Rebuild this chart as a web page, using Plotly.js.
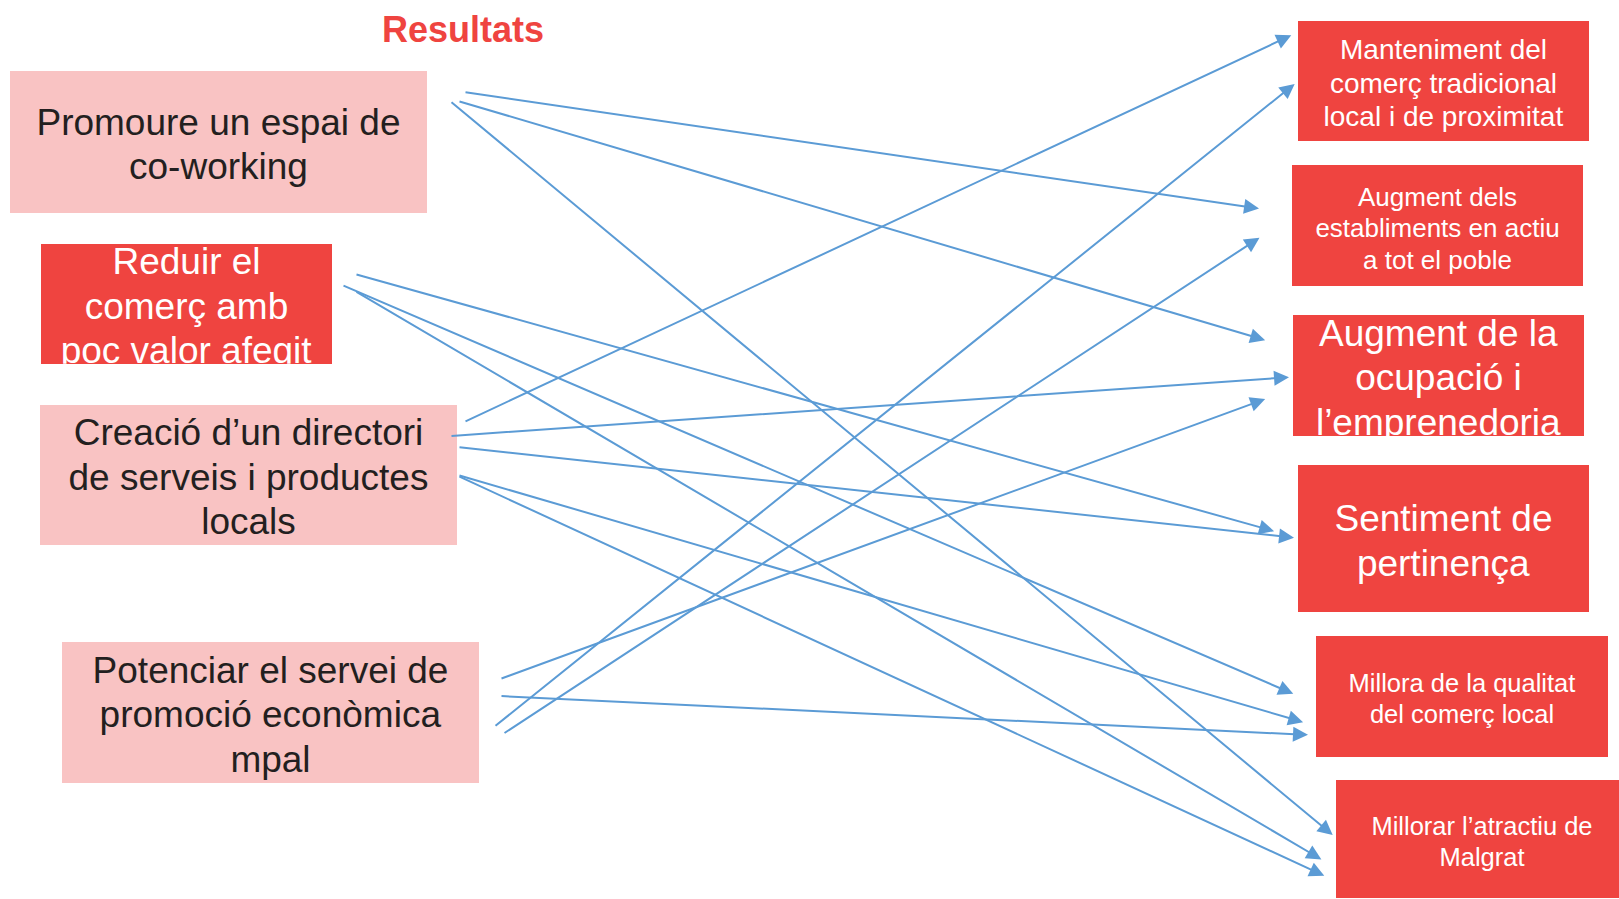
<!DOCTYPE html>
<html>
<head>
<meta charset="utf-8">
<script src="https://cdn.plot.ly/plotly-3.0.1.min.js"></script>
<style>
html,body{margin:0;padding:0;background:#ffffff;overflow:hidden}
#chart{width:1619px;height:899px}
</style>
</head>
<body>
<div id="chart"></div>
<script>
// ---------------- DATA ----------------
const titleText = "Resultats";

const leftLabels = [
  ["Promoure un espai de", "co-working"],
  ["Reduir el", "comerç amb", "poc valor afegit"],
  ["Creació d’un directori", "de serveis i productes", "locals"],
  ["Potenciar el servei de", "promoció econòmica", "mpal"]
];

const rightLabels = [
  ["Manteniment del", "comerç tradicional", "local i de proximitat"],
  ["Augment dels", "establiments en actiu", "a tot el poble"],
  ["Augment de la", "ocupació i", "l’emprenedoria"],
  ["Sentiment de", "pertinença"],
  ["Millora de la qualitat", "del comerç local"],
  ["Millorar l’atractiu de", "Malgrat"]
];

// links: left node index -> right node index
const linkFrom = [0, 0, 0, 1, 1, 1, 2, 2, 2, 2, 2, 3, 3, 3, 3];
const linkTo   = [1, 2, 5, 3, 4, 5, 0, 2, 3, 4, 5, 2, 4, 0, 1];

// ---------------- LAYOUT / STYLE ----------------
const FONT = "Liberation Sans, Arial, Helvetica, sans-serif";
const SOFT = "#F9C3C3";
const STRONG = "#EF4440";
const INK = "#231F20";
const WHITE = "#FFFFFF";
const ARROW = "#5B9BD5";
const LINE_GAP = 1.2;
const TEXT_DY = 2.5;
const ASC = 0.905, DESC = 0.212;
const ARROW_W = 2, ARROW_SIZE = 1.5;

const leftGeom = [
  {x0: 10, x1: 427, y0: 71,  y1: 213, fill: SOFT,   ink: INK,   size: 37},
  {x0: 41, x1: 332, y0: 244, y1: 364, fill: STRONG, ink: WHITE, size: 37},
  {x0: 40, x1: 457, y0: 405, y1: 545, fill: SOFT,   ink: INK,   size: 37},
  {x0: 62, x1: 479, y0: 642, y1: 783, fill: SOFT,   ink: INK,   size: 37}
];

const rightGeom = [
  {x0: 1298, x1: 1589, y0: 21,  y1: 141, fill: STRONG, ink: WHITE, size: 28},
  {x0: 1292, x1: 1583, y0: 165, y1: 286, fill: STRONG, ink: WHITE, size: 26},
  {x0: 1293, x1: 1584, y0: 315, y1: 436, fill: STRONG, ink: WHITE, size: 37},
  {x0: 1298, x1: 1589, y0: 465, y1: 612, fill: STRONG, ink: WHITE, size: 37},
  {x0: 1316, x1: 1608, y0: 636, y1: 757, fill: STRONG, ink: WHITE, size: 25.5},
  {x0: 1336, x1: 1628, y0: 780, y1: 898, fill: STRONG, ink: WHITE, size: 25.5}
];

// arrow ports (tail x, tail y, head x, head y), one per link
const linkPorts = [
  [464, 92, 1262, 209],
  [458, 101, 1268, 341],
  [450, 101, 1335, 837],
  [355, 274, 1277, 532],
  [342, 285, 1296, 695],
  [355, 291, 1324, 861],
  [464, 422, 1294, 34],
  [450, 436, 1292, 377],
  [458, 447, 1297, 538],
  [458, 475, 1306, 723],
  [458, 476, 1327, 877],
  [500, 679, 1268, 398],
  [500, 696, 1311, 735],
  [494, 727, 1297, 82],
  [503, 734, 1262, 236]
];

// ---------------- BUILD ----------------
function boxShape(b) {
  return {type: "rect", xref: "x", yref: "y", x0: b.x0, x1: b.x1, y0: b.y0, y1: b.y1,
          fillcolor: b.fill, line: {width: 0}, layer: "below"};
}

function boxText(b, lines) {
  const cx = (b.x0 + b.x1) / 2, cy = (b.y0 + b.y1) / 2 + TEXT_DY;
  const w = b.x1 - b.x0, lh = b.size * LINE_GAP, bb = b.size * (ASC + DESC);
  return lines.map((t, i) => {
    const lc = cy + (i - (lines.length - 1) / 2) * lh;
    const top = lc - bb / 2;
    const bottom = Math.min(top + lh, b.y1);
    return {
      xref: "x", yref: "y", x: cx, y: top, xanchor: "center", yanchor: "top",
      width: w, height: bottom - top, valign: "top", align: "center",
      text: t, showarrow: false, borderpad: 0, borderwidth: 0,
      font: {family: FONT, size: b.size, color: b.ink}
    };
  });
}

const shapes = [];
let annotations = [];
leftLabels.forEach((lines, i) => {
  shapes.push(boxShape(leftGeom[i]));
  annotations = annotations.concat(boxText(leftGeom[i], lines));
});
rightLabels.forEach((lines, i) => {
  shapes.push(boxShape(rightGeom[i]));
  annotations = annotations.concat(boxText(rightGeom[i], lines));
});

const tipOvershoot = ARROW_W * ARROW_SIZE * 1.0;
linkFrom.forEach((f, k) => {
  const p = linkPorts[k];
  const dx = p[2] - p[0], dy = p[3] - p[1];
  const L = Math.hypot(dx, dy);
  annotations.push({
    xref: "x", yref: "y", axref: "x", ayref: "y",
    x: p[2] - dx / L * tipOvershoot, y: p[3] - dy / L * tipOvershoot,
    ax: p[0], ay: p[1],
    text: "", showarrow: true, arrowhead: 2, arrowsize: ARROW_SIZE,
    arrowwidth: ARROW_W, arrowcolor: ARROW, standoff: 0, startstandoff: 0,
    name: leftLabels[f].join(" ") + " → " + rightLabels[linkTo[k]].join(" ")
  });
});

const layout = {
  width: 1619, height: 899,
  margin: {l: 0, r: 0, t: 0, b: 0, pad: 0},
  paper_bgcolor: "#ffffff", plot_bgcolor: "#ffffff",
  showlegend: false,
  title: {
    text: "<b>" + titleText + "</b>",
    font: {family: FONT, size: 36, color: STRONG},
    x: 463 / 1619, xref: "paper", xanchor: "center",
    y: 1 - 29 / 899, yref: "container", yanchor: "middle"
  },
  xaxis: {range: [0, 1619], visible: false, fixedrange: true},
  yaxis: {range: [899, 0], visible: false, fixedrange: true},
  shapes: shapes,
  annotations: annotations
};

Plotly.newPlot("chart", [{x: [], y: [], type: "scatter", mode: "markers", hoverinfo: "skip"}], layout,
  {staticPlot: true, displayModeBar: false});
</script>
</body>
</html>
